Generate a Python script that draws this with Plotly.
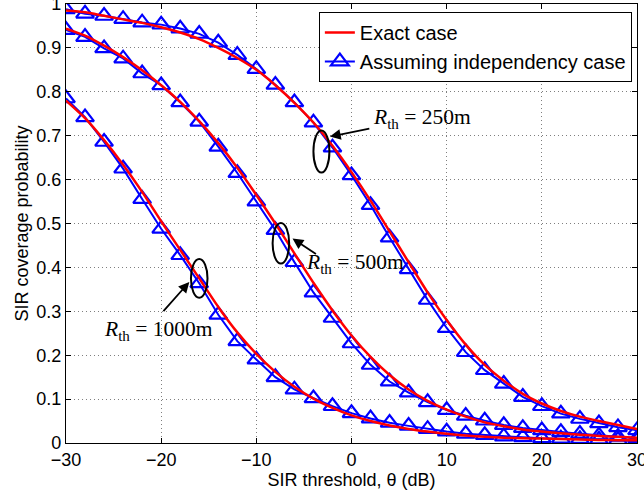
import plotly.graph_objects as go

# SIR threshold (dB)
theta_db = [-30, -28, -26, -24, -22, -20, -18, -16, -14, -12, -10, -8, -6, -4, -2, 0,
            2, 4, 6, 8, 10, 12, 14, 16, 18, 20, 22, 24, 26, 28, 30]

# Exact case (red)
exact_250 = [0.985, 0.981, 0.973, 0.965, 0.957, 0.947, 0.935, 0.920, 0.900, 0.877, 0.850,
             0.815, 0.775, 0.730, 0.677, 0.617, 0.552, 0.482, 0.412, 0.343, 0.280, 0.224,
             0.178, 0.142, 0.112, 0.090, 0.073, 0.060, 0.050, 0.041, 0.032]
exact_500 = [0.944, 0.928, 0.905, 0.879, 0.849, 0.815, 0.777, 0.733, 0.683, 0.627, 0.565,
             0.500, 0.432, 0.365, 0.302, 0.245, 0.196, 0.155, 0.122, 0.096, 0.076, 0.060,
             0.047, 0.038, 0.031, 0.026, 0.022, 0.019, 0.016, 0.014, 0.012]
exact_1000 = [0.780, 0.740, 0.690, 0.634, 0.572, 0.505, 0.440, 0.375, 0.310, 0.252, 0.203,
              0.162, 0.128, 0.101, 0.080, 0.063, 0.050, 0.040, 0.032, 0.026, 0.021, 0.017,
              0.014, 0.012, 0.011, 0.010, 0.009, 0.008, 0.007, 0.0065, 0.006]

# Assuming independency case (blue, triangles)
indep_250 = [0.988, 0.978, 0.973, 0.966, 0.958, 0.953, 0.944, 0.932, 0.912, 0.884, 0.852,
             0.816, 0.776, 0.730, 0.673, 0.610, 0.542, 0.468, 0.396, 0.326, 0.262, 0.207,
             0.166, 0.135, 0.105, 0.084, 0.067, 0.055, 0.045, 0.036, 0.029]
indep_500 = [0.941, 0.925, 0.899, 0.876, 0.842, 0.815, 0.776, 0.732, 0.675, 0.615, 0.550,
             0.485, 0.412, 0.343, 0.285, 0.227, 0.178, 0.140, 0.115, 0.093, 0.075, 0.062,
             0.051, 0.041, 0.034, 0.029, 0.025, 0.021, 0.017, 0.014, 0.011]
indep_1000 = [0.785, 0.742, 0.686, 0.625, 0.556, 0.488, 0.428, 0.364, 0.292, 0.232, 0.190,
              0.150, 0.122, 0.102, 0.084, 0.068, 0.056, 0.046, 0.039, 0.032, 0.026, 0.021,
              0.018, 0.015, 0.013, 0.011, 0.010, 0.009, 0.008, 0.007, 0.006]

x_ticks = [-30, -20, -10, 0, 10, 20, 30]
y_ticks = [0, 0.1, 0.2, 0.3, 0.4, 0.5, 0.6, 0.7, 0.8, 0.9, 1]
y_tick_labels = ["0", "0.1", "0.2", "0.3", "0.4", "0.5", "0.6", "0.7", "0.8", "0.9", "1"]

labels = ["<i>R</i><sub>th</sub> = 250m", "<i>R</i><sub>th</sub> = 500m",
          "<i>R</i><sub>th</sub> = 1000m"]

fig = go.Figure()

indep_series = [indep_250, indep_500, indep_1000]
exact_series = [exact_250, exact_500, exact_1000]

for i, ys in enumerate(indep_series):
    fig.add_trace(go.Scatter(
        x=theta_db, y=ys, mode="lines+markers",
        name="Assuming independency case", legendrank=2,
        showlegend=(i == 0),
        line=dict(color="rgb(0,0,255)", width=2),
        marker=dict(symbol="triangle-up-open", size=15.5,
                    color="rgb(0,0,255)", line=dict(color="rgb(0,0,255)", width=2.2)),
    ))

for i, ys in enumerate(exact_series):
    fig.add_trace(go.Scatter(
        x=theta_db, y=ys, mode="lines",
        name="Exact case", legendrank=1,
        showlegend=(i == 0),
        line=dict(color="rgb(255,0,0)", width=2.5, shape="spline", smoothing=0.6),
    ))

# ellipses: (center x, center y, half-width, half-height)
ellipses = [(-3.16, 0.664, 0.84, 0.048), (-7.42, 0.455, 0.87, 0.046), (-16.0, 0.375, 0.87, 0.044)]
for cx, cy, rx, ry in ellipses:
    fig.add_shape(type="circle", xref="x", yref="y",
                  x0=cx - rx, x1=cx + rx, y0=cy - ry, y1=cy + ry,
                  line=dict(color="black", width=2))

# arrows: (head x, head y, tail x, tail y)
arrows = [(-2.27, 0.698, 2.03, 0.717), (-6.2, 0.466, -3.58, 0.428), (-17.04, 0.367, -19.9, 0.297)]
for hx, hy, tx, ty in arrows:
    fig.add_annotation(x=hx, y=hy, ax=tx, ay=ty, xref="x", yref="y", axref="x", ayref="y",
                       text="", showarrow=True, arrowhead=2, arrowsize=1.2, arrowwidth=1.8,
                       arrowcolor="black")

# text labels: (left x, center y)
label_pos = [(2.06, 0.740), (-4.97, 0.408), (-26.27, 0.257)]
for (lx, ly), txt in zip(label_pos, labels):
    fig.add_annotation(x=lx, y=ly, xref="x", yref="y", text=txt, showarrow=False,
                       xanchor="left", yanchor="middle",
                       font=dict(family="Liberation Serif, DejaVu Serif, serif", size=21.5,
                                 color="black"))

axis_common = dict(
    showline=True, linecolor="black", linewidth=1.2, mirror="ticks",
    ticks="inside", ticklen=5, tickwidth=1, tickcolor="black",
    showgrid=True, gridcolor="rgba(0,0,0,0.5)", gridwidth=1, griddash="1px,3px",
    zeroline=False, ticklabeloverflow="allow", automargin=False,
    tickfont=dict(family="Liberation Sans, Arial, sans-serif", size=18, color="black"),
    title_font=dict(family="Liberation Sans, Arial, sans-serif", size=18, color="black"),
)

fig.update_xaxes(range=[-30, 30], tickvals=x_ticks,
                 title_text="SIR threshold, θ (dB)", title_standoff=4, **axis_common)
fig.update_yaxes(range=[0, 1], tickvals=y_ticks, ticktext=y_tick_labels,
                 title_text="SIR coverage probability", title_standoff=2, **axis_common)

fig.update_layout(
    width=644, height=495,
    margin=dict(l=66, r=7, t=4, b=52),
    paper_bgcolor="white", plot_bgcolor="white",
    legend=dict(x=0.991, y=0.982, xanchor="right", yanchor="top",
                bgcolor="white", bordercolor="black", borderwidth=1,
                font=dict(family="Liberation Sans, Arial, sans-serif", size=20, color="black"),
                tracegroupgap=0, itemwidth=30),
    showlegend=True,
)

fig.write_html("out.html")
